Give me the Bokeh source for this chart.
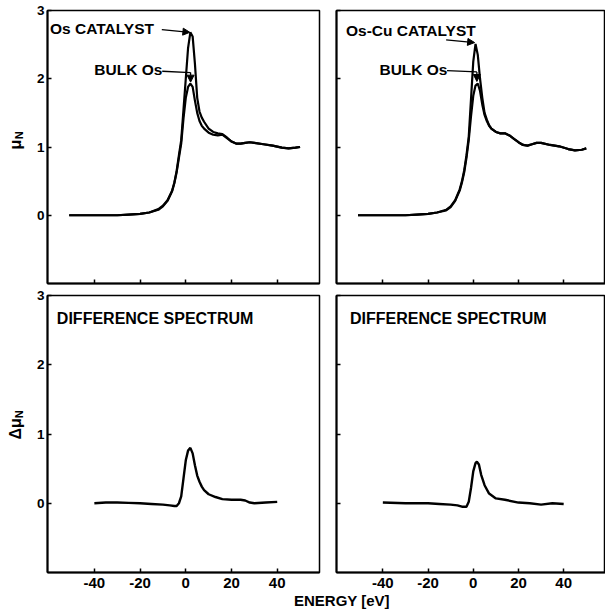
from bokeh.plotting import figure
from bokeh.layouts import column, row
from bokeh.models import Range1d, FixedTicker, Label, Arrow, NormalHead, Div
from bokeh.core.properties import value
from bokeh.embed import file_html
from bokeh.resources import INLINE

# ---------------- data ----------------
x_ticks = [-40, -20, 0, 20, 40]
x_tick_labels = ["-40", "-20", "0", "20", "40"]
y_ticks = [0, 1, 2, 3]

energy_top = [-51, -45, -40, -35, -30, -25, -20, -16, -12, -10, -8, -6, -5, -4, -3,
              -2, -1, 0, 1, 2, 3, 4, 5, 6, 7, 8, 10, 12, 14, 16, 18, 20, 22, 24, 26,
              28, 30, 34, 38, 42, 45, 48, 50]

os_catalyst = [0.0, 0.0, 0.0, 0.0, 0.0, 0.01, 0.02, 0.04, 0.09, 0.14, 0.22, 0.36, 0.48, 0.65, 0.88,
               1.1, 1.55, 2.0, 2.45, 2.68, 2.62, 2.22, 1.72, 1.52, 1.43, 1.37, 1.27, 1.22, 1.2, 1.19, 1.14, 1.08, 1.05, 1.05, 1.06,
               1.07, 1.06, 1.04, 1.02, 0.99, 0.98, 0.99, 1.0]
bulk_os_left = [0.0, 0.0, 0.0, 0.0, 0.0, 0.01, 0.02, 0.04, 0.08, 0.13, 0.21, 0.35, 0.47, 0.63, 0.84,
                1.05, 1.42, 1.72, 1.88, 1.93, 1.88, 1.68, 1.5, 1.38, 1.31, 1.27, 1.21, 1.18, 1.17, 1.18, 1.13, 1.08, 1.05, 1.05, 1.06,
                1.07, 1.06, 1.04, 1.02, 0.99, 0.98, 0.99, 1.0]

oscu_catalyst = [0.0, 0.0, 0.0, 0.0, 0.0, 0.01, 0.02, 0.04, 0.08, 0.13, 0.22, 0.38, 0.5, 0.66, 0.88,
                 1.15, 1.7, 2.25, 2.51, 2.35, 2.0, 1.72, 1.5, 1.4, 1.32, 1.27, 1.22, 1.2, 1.2, 1.17, 1.12, 1.07, 1.03, 1.02, 1.04,
                 1.06, 1.06, 1.03, 1.01, 0.97, 0.95, 0.96, 0.98]
bulk_os_right = [0.0, 0.0, 0.0, 0.0, 0.0, 0.01, 0.02, 0.04, 0.07, 0.12, 0.21, 0.36, 0.48, 0.63, 0.84,
                 1.1, 1.45, 1.75, 1.9, 1.93, 1.82, 1.62, 1.47, 1.38, 1.31, 1.27, 1.22, 1.2, 1.2, 1.17, 1.12, 1.07, 1.03, 1.02, 1.04,
                 1.06, 1.06, 1.03, 1.01, 0.97, 0.95, 0.96, 0.98]

energy_diff_left = [-40, -35, -30, -25, -20, -15, -10, -7, -5, -4, -3, -2, -1, 0, 1, 2, 3, 4, 5, 6, 7, 8,
                    10, 13, 16, 20, 24, 26, 28, 30, 35, 40]
diff_left = [0.0, 0.01, 0.01, 0.005, 0.0, -0.01, -0.02, -0.03, -0.04, -0.04, 0.0, 0.1, 0.36, 0.62, 0.76, 0.8, 0.72, 0.55, 0.4, 0.31, 0.24, 0.19,
             0.13, 0.09, 0.06, 0.05, 0.05, 0.04, 0.01, 0.0, 0.01, 0.02]

energy_diff_right = [-40, -30, -20, -15, -10, -7, -5, -3, -2, -1, 0, 1, 1.6, 2.5, 3.5, 5, 7, 10, 14, 20,
                     25, 30, 35, 40]
diff_right = [0.01, 0.0, 0.0, -0.01, -0.02, -0.03, -0.05, -0.05, 0.02, 0.22, 0.46, 0.58, 0.6, 0.56, 0.41, 0.26, 0.14, 0.07, 0.05, 0.01,
              0.0, -0.02, 0.0, -0.01]

# ---------------- styling ----------------
FONT = "Liberation Sans"
X_RANGE = (-60.5, 58.5)
Y_RANGE = (-1, 3)


def make_fig(width, height, bl, br, bt, bb, ylabels, xlabels):
    p = figure(width=width, height=height,
               x_range=Range1d(*X_RANGE), y_range=Range1d(*Y_RANGE),
               output_backend="svg", toolbar_location=None,
               min_border_left=bl, min_border_right=br,
               min_border_top=bt, min_border_bottom=bb)
    p.grid.visible = False
    p.background_fill_color = "white"
    p.border_fill_color = "white"
    p.outline_line_color = "black"
    p.outline_line_width = 1.5
    p.outline_line_alpha = 1.0
    xa, ya = p.xaxis[0], p.yaxis[0]
    xa.ticker = FixedTicker(ticks=x_ticks)
    ya.ticker = FixedTicker(ticks=y_ticks)
    for ax in (xa, ya):
        ax.major_tick_in = 4
        ax.major_tick_out = 0
        ax.minor_tick_line_color = None
        ax.axis_line_width = 2
        ax.axis_line_color = "black"
        ax.major_tick_line_width = 1.5
        ax.major_label_text_font = FONT
        ax.major_label_text_font_style = "bold"
        ax.major_label_text_color = "black"
    ya.major_label_text_font_size = "13.5px"
    ya.major_label_standoff = 3
    xa.major_label_text_font_size = "15px"
    xa.major_label_standoff = 5
    xa.major_label_overrides = {t: s for t, s in zip(x_ticks, x_tick_labels)}
    if not ylabels:
        ya.major_label_overrides = {t: "" for t in y_ticks}
        ya.major_label_text_font_size = "0px"
        ya.major_label_standoff = 0
    if not xlabels:
        xa.major_label_overrides = {t: "" for t in x_ticks}
        xa.major_label_text_font_size = "0px"
        xa.major_label_standoff = 0
    return p


def add_text(p, x, y, text, size="15.5px"):
    p.add_layout(Label(x=x, y=y, text=text, text_font=FONT, text_font_style="bold",
                       text_font_size=size, text_color="black",
                       text_align="left", text_baseline="middle"))


def add_arrow(p, x0, y0, x1, y1):
    p.add_layout(Arrow(end=NormalHead(size=7, fill_color="black", line_color="black", line_width=1),
                       x_start=x0, y_start=y0, x_end=x1, y_end=y1,
                       line_color="black", line_width=1.3))


def label_strip(height, main, main_xy, sub_xy):
    # narrow figure that carries the rotated y-axis title (pixel coordinates, y downward)
    f = figure(width=30, height=height, x_range=Range1d(0, 30), y_range=Range1d(height, 0),
               output_backend="svg", toolbar_location=None,
               min_border_left=0, min_border_right=0, min_border_top=0, min_border_bottom=0)
    f.axis.visible = False
    f.grid.visible = False
    f.outline_line_color = None
    f.background_fill_color = "white"
    f.border_fill_color = "white"
    f.text(x=[main_xy[0]], y=[main_xy[1]], text=[main], angle=1.5708,
           text_font=value(FONT), text_font_style="bold", text_font_size="16px",
           text_color="black", text_align="center", text_baseline="middle")
    f.text(x=[sub_xy[0]], y=[sub_xy[1]], text=["N"], angle=1.5708,
           text_font=value(FONT), text_font_style="bold", text_font_size="11px",
           text_color="black", text_align="center", text_baseline="middle")
    return f


LW = 2.2
STRIP_W = 30
LEFT_W = 322 - STRIP_W
RIGHT_W = 605 - 322
TOP_H = 289
BOT_H = 303

# top-left
p1 = make_fig(LEFT_W, TOP_H, 47 - STRIP_W, 3, 10, 6, True, False)
p1.line(energy_top, os_catalyst, line_color="black", line_width=LW)
p1.line(energy_top, bulk_os_left, line_color="black", line_width=LW)
add_text(p1, -59.4, 2.73, "Os CATALYST")
add_arrow(p1, -10.5, 2.72, 1.8, 2.68)
add_text(p1, -40.0, 2.13, "BULK Os")
p1.line([-10.3, 2.1], [2.11, 2.09], line_color="black", line_width=1.3)
add_arrow(p1, 2.1, 2.09, 2.1, 1.95)
s1 = label_strip(TOP_H, "\u03bc", (15, 142), (18, 132))

# top-right
p2 = make_fig(RIGHT_W, TOP_H, 14, 0, 10, 6, False, False)
p2.line(energy_top, oscu_catalyst, line_color="black", line_width=LW)
p2.line(energy_top, bulk_os_right, line_color="black", line_width=LW)
add_text(p2, -56.3, 2.70, "Os-Cu CATALYST")
add_arrow(p2, -12.0, 2.57, 0.6, 2.53)
add_text(p2, -41.5, 2.13, "BULK Os")
p2.line([-11.6, 1.6], [2.12, 2.10], line_color="black", line_width=1.3)
add_arrow(p2, 1.6, 2.10, 1.6, 1.96)

# bottom-left
p3 = make_fig(LEFT_W, BOT_H, 47 - STRIP_W, 3, 6, 20, True, True)
p3.line(energy_diff_left, diff_left, line_color="black", line_width=2.4)
add_text(p3, -56.4, 2.67, "DIFFERENCE SPECTRUM", size="16px")
s3 = label_strip(BOT_H, "\u0394\u03bc", (15, 146), (18, 130))

# bottom-right
p4 = make_fig(RIGHT_W, BOT_H, 14, 0, 6, 20, False, True)
p4.line(energy_diff_right, diff_right, line_color="black", line_width=2.4)
add_text(p4, -54.5, 2.67, "DIFFERENCE SPECTRUM", size="16px")

xlabel = Div(text="ENERGY [eV]", width=605, height=22, margin=(0, 0, 0, 0),
             styles={"font-family": "'Liberation Sans', Arial, sans-serif", "font-weight": "bold",
                     "font-size": "15px", "padding-left": "294px", "padding-top": "0px",
                     "color": "black", "line-height": "17px"})

layout = column(row(s1, p1, p2, spacing=0), row(s3, p3, p4, spacing=0), xlabel, spacing=0)

open("out.html", "w").write(file_html(layout, INLINE))
